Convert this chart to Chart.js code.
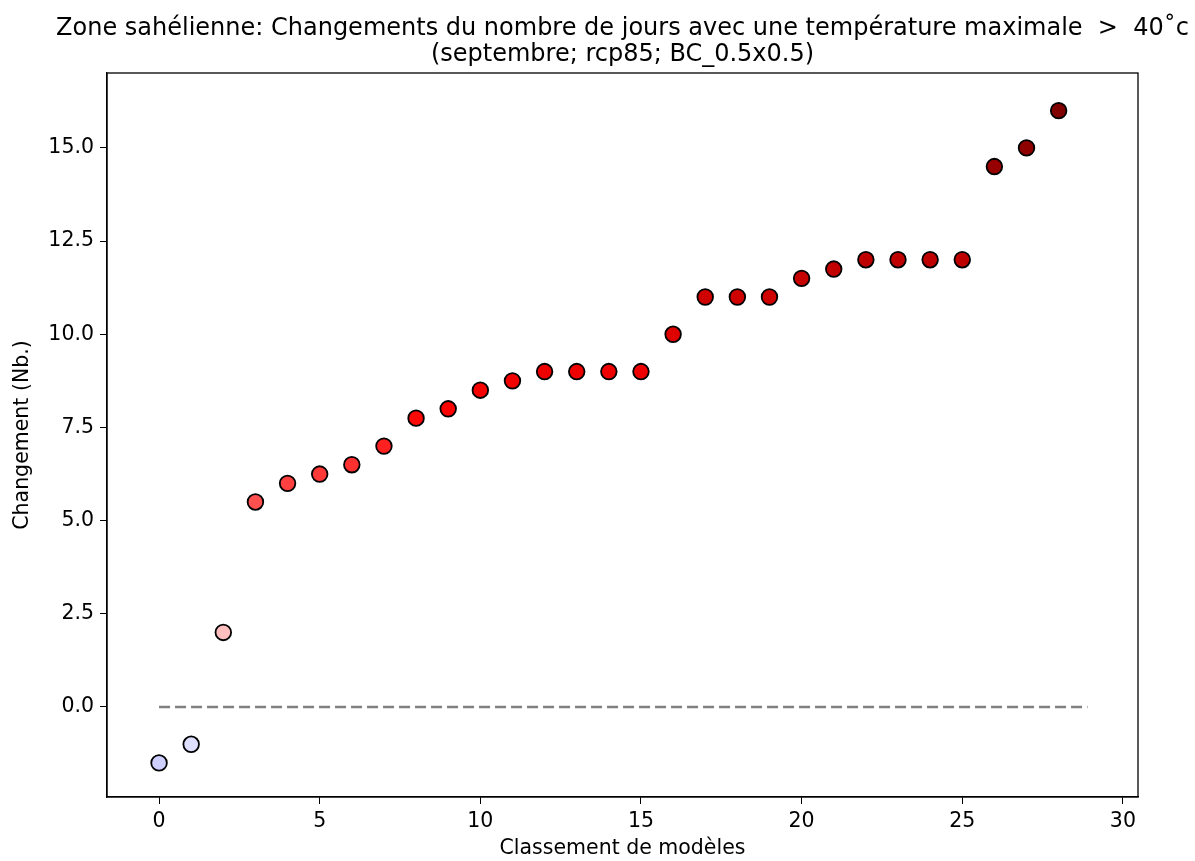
<!DOCTYPE html>
<html>
<head>
<meta charset="utf-8">
<script src="https://cdn.jsdelivr.net/npm/chart.js@4/dist/chart.umd.min.js"></script>
<style>
  html, body { margin: 0; padding: 0; background: #fff; }
  #wrap { width: 1195px; height: 861px; }
</style>
</head>
<body>
<div id="wrap"><canvas id="rankChart" width="1195" height="861"></canvas></div>
<script>
// données du graphique (classement des modèles)
const titleLines = [
    "Zone sahélienne: Changements du nombre de jours avec une température maximale  >  40\u02DAc",
    "(septembre; rcp85; BC_0.5x0.5)"
];
const changes = [-1.5, -1, 2, 5.5, 6, 6.25, 6.5, 7, 7.75, 8, 8.5, 8.75, 9, 9, 9, 9,
    10, 11, 11, 11, 11.5, 11.75, 12, 12, 12, 12, 14.5, 15, 16];
const zeroLineX = [0, 28.9];
const xTicks = [0, 5, 10, 15, 20, 25, 30];
const yTicks = [0, 2.5, 5, 7.5, 10, 12.5, 15];

// palette "seismic" de matplotlib, centrée sur 0
function seismic(v, vmax) {
    const t = Math.max(0, Math.min(1, 0.5 + v / (2 * vmax)));
    const stops = [[0, 0, 0, 0.3], [0.25, 0, 0, 1], [0.5, 1, 1, 1], [0.75, 1, 0, 0], [1, 0.5, 0, 0]];
    for (let i = 1; i < stops.length; i++) {
        if (t <= stops[i][0]) {
            const a = stops[i - 1], b = stops[i];
            const f = (t - a[0]) / (b[0] - a[0]);
            const c = [1, 2, 3].map(k => Math.round(255 * (a[k] + f * (b[k] - a[k]))));
            return "rgb(" + c.join(",") + ")";
        }
    }
    return "rgb(128,0,0)";
}
const vmax = Math.max(...changes.map(Math.abs));

const frameAndTitle = {
    id: "frameAndTitle",
    afterDraw(chart) {
        const { ctx, chartArea } = chart;
        ctx.save();
        ctx.strokeStyle = "#000";
        ctx.lineWidth = 1.3;
        ctx.strokeRect(chartArea.left, chartArea.top, chartArea.right - chartArea.left, chartArea.bottom - chartArea.top);
        ctx.fillStyle = "#000";
        ctx.font = "24px 'DejaVu Sans'";
        ctx.textAlign = "center";
        ctx.textBaseline = "alphabetic";
        const cx = (chartArea.left + chartArea.right) / 2;
        ctx.fillText(titleLines[0], cx, 35);
        ctx.fillText(titleLines[1], cx, 61);
        ctx.restore();
    }
};

const tickFont = { family: "DejaVu Sans", size: 20.5 };

new Chart(document.getElementById("rankChart"), {
    type: "scatter",
    data: {
        datasets: [
            {
                type: "line",
                data: zeroLineX.map(x => ({ x: x, y: 0 })),
                borderColor: "#808080",
                borderWidth: 2.7,
                borderDash: [11, 5],
                pointRadius: 0,
                fill: false,
                order: 2
            },
            {
                data: changes.map((v, i) => ({ x: i, y: v })),
                backgroundColor: changes.map(v => seismic(v, vmax)),
                borderColor: "#000",
                borderWidth: 1.8,
                pointRadius: 7.8,
                pointHoverRadius: 7.8,
                order: 1
            }
        ]
    },
    options: {
        responsive: false,
        animation: false,
        layout: { padding: { top: 73, right: 57, left: 6, bottom: 0 } },
        plugins: { legend: { display: false }, title: { display: false }, tooltip: { enabled: false } },
        scales: {
            x: {
                type: "linear",
                min: -1.62,
                max: 30.47,
                afterBuildTicks: s => { s.ticks = xTicks.map(v => ({ value: v })); },
                afterFit: s => { s.height = 64; },
                grid: { drawOnChartArea: false, drawTicks: true, tickLength: 7, color: "#000" },
                border: { display: true, color: "#000", width: 1.3 },
                ticks: { color: "#000", font: tickFont, padding: 5, maxRotation: 0 },
                title: { display: true, text: "Classement de modèles", color: "#000", font: tickFont, padding: { top: 2, bottom: 0 } }
            },
            y: {
                min: -2.415,
                max: 17.01,
                afterBuildTicks: s => { s.ticks = yTicks.map(v => ({ value: v })); },
                afterFit: s => { s.width = 101; },
                grid: { drawOnChartArea: false, drawTicks: true, tickLength: 7, color: "#000" },
                border: { display: true, color: "#000", width: 1.3 },
                ticks: { color: "#000", font: tickFont, padding: 6, callback: v => v.toFixed(1) },
                title: { display: true, text: "Changement (Nb.)", color: "#000", font: tickFont, padding: { top: 4, bottom: 4 } }
            }
        }
    },
    plugins: [frameAndTitle]
});
</script>
</body>
</html>
